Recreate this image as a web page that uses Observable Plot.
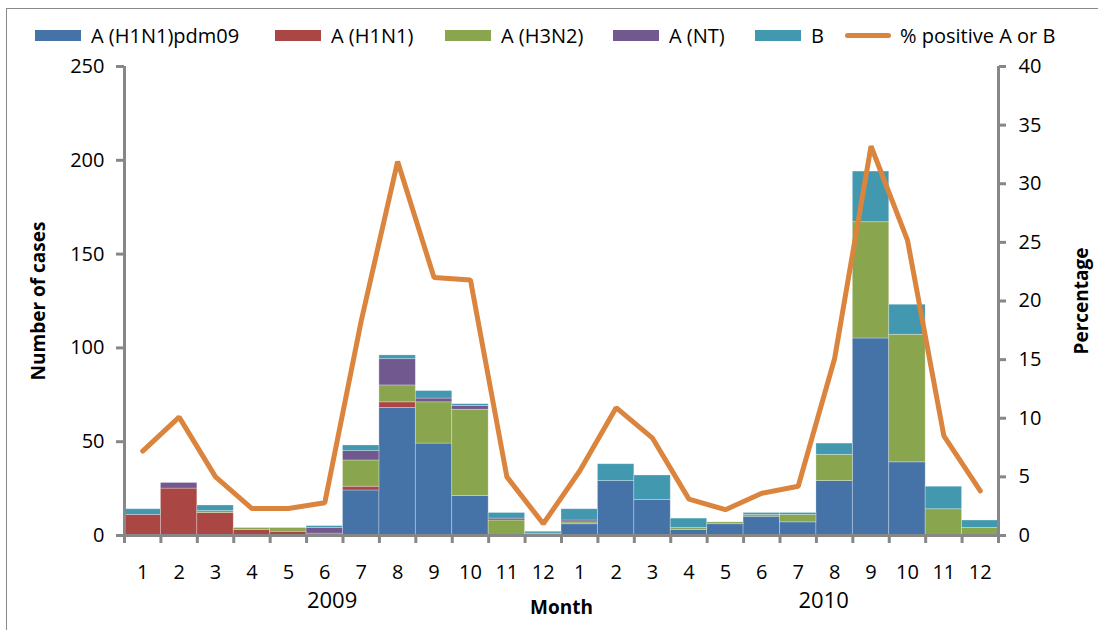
<!DOCTYPE html>
<html><head><meta charset="utf-8">
<script src="https://cdn.jsdelivr.net/npm/d3@7"></script>
<script src="https://cdn.jsdelivr.net/npm/@observablehq/plot@0.6"></script>
<style>
body{margin:0;background:#fff;font-family:"Open Sans",sans-serif;}
#wrap{position:relative;width:1098px;height:630px;overflow:hidden;}
#frame{position:absolute;left:6px;top:8px;right:-2px;bottom:-2px;border-top:1px solid #8a8a8a;border-left:1px solid #8a8a8a;pointer-events:none;}
#legend{position:relative;height:48px;}
.item{position:absolute;top:23px;height:24px;display:flex;align-items:center;font-size:20px;color:#000;white-space:nowrap;}
.sw{width:46px;height:11px;margin-right:10px;}
.ln{width:46px;height:5px;border-radius:3px;margin-right:9px;}
#chart svg{display:block;}
</style></head>
<body>
<div id="wrap">
  <div id="legend"></div>
  <div id="chart"></div>
  <div id="frame"></div>
</div>
<script>
// ---- data ----
const months = ["1","2","3","4","5","6","7","8","9","10","11","12","1","2","3","4","5","6","7","8","9","10","11","12"];
const years = ["2009", "2010"];
const yearAt = [5.7, 19.2]; // position in month-index units
const seriesNames = ["A (H1N1)pdm09", "A (H1N1)", "A (H3N2)", "A (NT)", "B"];
const seriesColors = ["#4572A7", "#AA4643", "#89A54E", "#71588F", "#4198AF"];
const lineName = "% positive A or B";
const lineColor = "#DB843D";

const pdm09 = [0,0,0,0,0,0,24,68,49,21,0,0, 6,29,19,3,6,10,7,29,105,39,0,0];
const h1n1  = [11,25,12,3,2,1,2,3,0,0,0,0, 0,0,0,0,0,0,0,0,0,0,0,0];
const h3n2  = [0,0,1,1,2,0,14,9,22,46,8,1, 1,0,0,1,1,1,4,14,62,68,14,4];
const nt    = [0,3,0,0,0,3,5,14,2,2,1,0, 1,0,0,0,0,0,0,0,0,0,0,0];
const bVals = [3,0,3,0,0,1,3,2,4,1,3,1, 6,9,13,5,0,1,1,6,27,16,12,4];
const pctPositive = [7.2,10.1,5.0,2.3,2.3,2.8,18.3,31.9,22.0,21.8,5.0,1.0, 5.5,10.9,8.3,3.1,2.2,3.6,4.2,15.1,33.2,25.2,8.5,3.8];

const leftTicks = [0, 50, 100, 150, 200, 250];
const rightTicks = [0, 5, 10, 15, 20, 25, 30, 35, 40];
const leftMax = 250, rightMax = 40;
const k = leftMax / rightMax; // secondary axis factor

// ---- tables ----
const seriesValues = [pdm09, h1n1, h3n2, nt, bVals];
const table = seriesNames.flatMap((s, j) => seriesValues[j].map((v, i) => ({i, series: s, value: v})));
const linePts = pctPositive.map((p, i) => ({i, p}));
const monthPts = months.map((m, i) => ({i, m}));
const yearPts = years.map((y, j) => ({y, at: yearAt[j]}));
const boundaries = months.map((m, i) => i).concat([months.length]);

// ---- legend ----
const legendLeft = [35, 275, 445, 613, 755, 845];
const legend = document.getElementById("legend");
seriesNames.forEach((s, j) => {
  const d = document.createElement("div");
  d.className = "item"; d.style.left = legendLeft[j] + "px";
  d.innerHTML = `<span class="sw" style="background:${seriesColors[j]}"></span><span>${s}</span>`;
  legend.appendChild(d);
});
{
  const d = document.createElement("div");
  d.className = "item"; d.style.left = legendLeft[5] + "px";
  d.innerHTML = `<span class="ln" style="background:${lineColor}"></span><span>${lineName}</span>`;
  legend.appendChild(d);
}

// ---- chart ----
const axisGray = "#878787";
const chart = Plot.plot({
  width: 1098,
  height: 582,
  marginLeft: 124,
  marginRight: 100,
  marginTop: 18,
  marginBottom: 95,
  style: {fontFamily: "'Open Sans', sans-serif", fontSize: "20px", color: "#000", background: "transparent"},
  x: {type: "linear", domain: [0, months.length], axis: null},
  y: {type: "linear", domain: [0, leftMax], axis: null},
  color: {domain: seriesNames, range: seriesColors},
  marks: [
    Plot.rectY(table, {x1: "i", x2: d => d.i + 1, y: "value", fill: "series", order: seriesNames,
      stroke: "#ffffff", strokeOpacity: 0.35, strokeWidth: 0.8}),
    Plot.line(linePts, {x: d => d.i + 0.5, y: d => d.p * k, stroke: lineColor, strokeWidth: 5,
      strokeLinejoin: "miter", strokeLinecap: "round"}),
    // axis lines
    Plot.ruleX([0, months.length], {y1: 0, y2: leftMax, stroke: axisGray, strokeWidth: 3}),
    Plot.ruleY([0], {stroke: axisGray, strokeWidth: 3}),
    // left axis
    Plot.axisY(leftTicks, {anchor: "left", tickSize: 8, tickPadding: 12, stroke: axisGray, strokeWidth: 3,
      fill: "#000", fontSize: 20, label: null}),
    // right axis
    Plot.axisY(rightTicks.map(v => v * k), {anchor: "right", tickSize: 7, tickPadding: 13, stroke: axisGray, strokeWidth: 3,
      tickFormat: d => String(Math.round(d / k)), fill: "#000", fontSize: 20, label: null}),
    // bottom tick marks at month boundaries
    Plot.axisX(boundaries, {anchor: "bottom", tickSize: 8, tickFormat: () => "", stroke: axisGray, strokeWidth: 3, label: null}),
    // month labels
    Plot.text(monthPts, {x: d => d.i + 0.5, y: 0, text: "m", dy: 37, fontSize: 20, fill: "#000"}),
    // year labels
    Plot.text(yearPts, {x: "at", y: 0, text: "y", dy: 65, fontSize: 22, fill: "#000"}),
    // axis titles
    Plot.text(["Month"], {frameAnchor: "bottom", lineAnchor: "middle", dy: 72, fontSize: 19, fontWeight: "bold", fill: "#000"}),
    Plot.text(["Number of cases"], {frameAnchor: "left", textAnchor: "middle", dx: -86, rotate: -90, fontSize: 19, fontWeight: "bold", fill: "#000"}),
    Plot.text(["Percentage"], {frameAnchor: "right", textAnchor: "middle", dx: 83, rotate: -90, fontSize: 19, fontWeight: "bold", fill: "#000"})
  ]
});
document.getElementById("chart").appendChild(chart);
</script>
</body></html>
